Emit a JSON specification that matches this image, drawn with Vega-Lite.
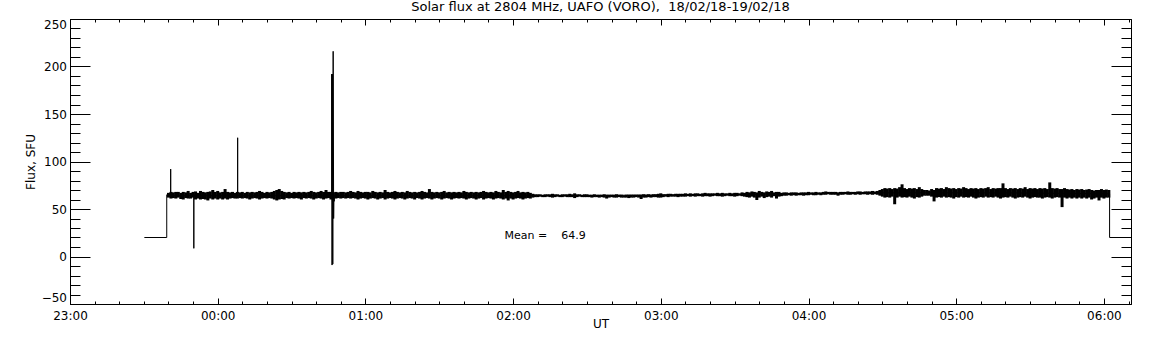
{
  "$schema": "https://vega.github.io/schema/vega-lite/v6.json",
  "width": 1061,
  "height": 285,
  "autosize": "none",
  "padding": {"left": 70, "top": 19, "right": 21, "bottom": 41},
  "background": "white",
  "title": {"text": "Solar flux at 2804 MHz, UAFO (VORO),\u00a0\u00a018/02/18-19/02/18", "font": "DejaVu Sans", "fontSize": 13, "fontWeight": "normal", "color": "black", "anchor": "middle", "offset": 4},
  "config": {
    "view": {"stroke": null},
    "axis": {"grid": false, "domainColor": "black", "domainWidth": 1, "tickColor": "black", "tickWidth": 1, "labelColor": "black", "titleColor": "black", "labelFont": "DejaVu Sans", "titleFont": "DejaVu Sans", "labelFontSize": 12, "titleFontSize": 12, "titleFontWeight": "normal"}
  },
  "datasets": {
    "trace": [
      {"m": 30.2, "f": 20}, {"m": 39.3, "f": 20}, {"m": 39.3, "f": 65}, {"m": 40.9, "f": 65}, {"m": 40.9, "f": 92}, {"m": 40.9, "f": 64},
      {"m": 50.3, "f": 64}, {"m": 50.3, "f": 8.6}, {"m": 50.3, "f": 64}, {"m": 68.1, "f": 64}, {"m": 68.1, "f": 125}, {"m": 68.1, "f": 64},
      {"m": 106.3, "f": 64}, {"m": 106.3, "f": 192}, {"m": 106.45, "f": -9}, {"m": 106.6, "f": 192}, {"m": 106.75, "f": -8}, {"m": 106.9, "f": 216},
      {"m": 107.1, "f": 40}, {"m": 107.2, "f": 64}, {"m": 190, "f": 64}, {"m": 260, "f": 65}, {"m": 328, "f": 67}, {"m": 380, "f": 67},
      {"m": 422.3, "f": 66}, {"m": 422.3, "f": 20}, {"m": 431, "f": 20}
    ],
    "band": [
      {"m":40,"lo":62,"hi":67},{"m":41,"lo":61,"hi":68},{"m":42,"lo":61.5,"hi":67.5},{"m":43,"lo":61,"hi":68},{"m":44,"lo":62,"hi":68},{"m":45,"lo":60.5,"hi":67},{"m":46,"lo":60,"hi":68},{"m":47,"lo":61.5,"hi":67.5},{"m":48,"lo":61,"hi":69},{"m":49,"lo":61,"hi":67},
      {"m":50,"lo":62,"hi":68},{"m":51,"lo":60,"hi":68.5},{"m":52,"lo":61,"hi":67},{"m":53,"lo":60,"hi":69},{"m":54,"lo":60.5,"hi":68},{"m":55,"lo":60,"hi":67.5},{"m":56,"lo":59,"hi":68},{"m":57,"lo":61,"hi":68.5},{"m":58,"lo":60,"hi":70},{"m":59,"lo":61,"hi":68},
      {"m":60,"lo":60,"hi":69},{"m":61,"lo":61,"hi":67.5},{"m":62,"lo":60,"hi":68},{"m":63,"lo":61,"hi":71},{"m":64,"lo":60,"hi":68},{"m":65,"lo":61,"hi":67.5},{"m":66,"lo":61.5,"hi":68},{"m":67,"lo":61,"hi":67},{"m":68,"lo":61,"hi":68},{"m":69,"lo":61.5,"hi":67.5},
      {"m":70,"lo":61,"hi":68},{"m":71,"lo":61.5,"hi":67},{"m":72,"lo":61,"hi":68},{"m":73,"lo":60,"hi":67.5},{"m":74,"lo":61,"hi":68},{"m":75,"lo":61.5,"hi":67.5},{"m":76,"lo":61,"hi":68},{"m":77,"lo":60,"hi":69},{"m":78,"lo":61,"hi":68},{"m":79,"lo":61.5,"hi":67},
      {"m":80,"lo":61,"hi":68},{"m":81,"lo":61.5,"hi":67.5},{"m":82,"lo":61,"hi":68},{"m":83,"lo":60,"hi":69},{"m":84,"lo":59,"hi":70},{"m":85,"lo":60,"hi":71},{"m":86,"lo":60.5,"hi":69},{"m":87,"lo":60,"hi":68},{"m":88,"lo":61.5,"hi":67.5},{"m":89,"lo":61,"hi":68},
      {"m":90,"lo":61.5,"hi":67},{"m":91,"lo":61,"hi":68},{"m":92,"lo":61.5,"hi":67.5},{"m":93,"lo":61,"hi":68},{"m":94,"lo":60,"hi":67.5},{"m":95,"lo":61.5,"hi":68},{"m":96,"lo":61,"hi":67.5},{"m":97,"lo":61.5,"hi":68},{"m":98,"lo":61,"hi":69},{"m":99,"lo":60,"hi":68},
      {"m":100,"lo":61,"hi":67.5},{"m":101,"lo":61.5,"hi":68},{"m":102,"lo":61,"hi":69},{"m":103,"lo":60,"hi":68},{"m":104,"lo":61,"hi":70},{"m":105,"lo":61.5,"hi":68},{"m":106,"lo":60,"hi":68},{"m":107,"lo":58,"hi":67.5},{"m":108,"lo":61,"hi":68},{"m":109,"lo":61.5,"hi":67.5},
      {"m":110,"lo":61,"hi":68},{"m":111,"lo":61.5,"hi":68},{"m":112,"lo":61,"hi":67.5},{"m":113,"lo":61.5,"hi":68},{"m":114,"lo":61,"hi":69},{"m":115,"lo":61.5,"hi":68},{"m":116,"lo":61,"hi":67.5},{"m":117,"lo":60,"hi":69},{"m":118,"lo":61,"hi":68},{"m":119,"lo":61.5,"hi":67.5},
      {"m":120,"lo":61,"hi":68},{"m":121,"lo":60,"hi":68},{"m":122,"lo":61,"hi":67.5},{"m":123,"lo":61.5,"hi":69},{"m":124,"lo":61,"hi":68},{"m":125,"lo":60,"hi":67.5},{"m":126,"lo":61,"hi":68},{"m":127,"lo":61.5,"hi":67.5},{"m":128,"lo":60,"hi":70},{"m":129,"lo":61,"hi":68},
      {"m":130,"lo":61.5,"hi":67.5},{"m":131,"lo":61,"hi":68},{"m":132,"lo":60,"hi":69},{"m":133,"lo":61,"hi":68},{"m":134,"lo":61.5,"hi":67.5},{"m":135,"lo":61,"hi":68},{"m":136,"lo":60,"hi":67.5},{"m":137,"lo":61,"hi":69},{"m":138,"lo":61.5,"hi":68},{"m":139,"lo":61,"hi":67.5},
      {"m":140,"lo":60,"hi":68},{"m":141,"lo":61.5,"hi":67.5},{"m":142,"lo":61,"hi":68},{"m":143,"lo":60,"hi":69},{"m":144,"lo":61,"hi":68},{"m":145,"lo":61.5,"hi":67.5},{"m":146,"lo":61,"hi":71},{"m":147,"lo":60,"hi":68},{"m":148,"lo":61,"hi":67.5},{"m":149,"lo":61.5,"hi":68},
      {"m":150,"lo":61,"hi":67.5},{"m":151,"lo":60,"hi":68},{"m":152,"lo":61,"hi":69},{"m":153,"lo":61.5,"hi":67.5},{"m":154,"lo":61,"hi":68},{"m":155,"lo":60,"hi":67.5},{"m":156,"lo":61,"hi":68},{"m":157,"lo":61.5,"hi":67.5},{"m":158,"lo":61,"hi":68},{"m":159,"lo":61.5,"hi":67.5},
      {"m":160,"lo":61,"hi":69},{"m":161,"lo":60,"hi":68},{"m":162,"lo":61,"hi":67.5},{"m":163,"lo":61.5,"hi":68},{"m":164,"lo":61,"hi":67.5},{"m":165,"lo":60,"hi":68},{"m":166,"lo":61,"hi":67.5},{"m":167,"lo":61.5,"hi":68},{"m":168,"lo":60,"hi":69},{"m":169,"lo":61,"hi":68},
      {"m":170,"lo":61.5,"hi":67.5},{"m":171,"lo":61,"hi":68},{"m":172,"lo":60,"hi":67.5},{"m":173,"lo":61,"hi":69},{"m":174,"lo":61.5,"hi":68},{"m":175,"lo":61,"hi":67.5},{"m":176,"lo":60,"hi":70},{"m":177,"lo":61,"hi":68},{"m":178,"lo":59,"hi":69},{"m":179,"lo":61,"hi":68},
      {"m":180,"lo":60,"hi":67.5},{"m":181,"lo":61,"hi":68},{"m":182,"lo":61.5,"hi":69},{"m":183,"lo":61,"hi":67.5},{"m":184,"lo":60,"hi":68},{"m":185,"lo":61,"hi":67.5},{"m":186,"lo":61.5,"hi":68},{"m":187,"lo":61,"hi":67},{"m":188,"lo":62,"hi":66},
      {"m":189,"lo":62.5,"hi":65.5},{"m":190,"lo":62.5,"hi":65.5},{"m":191,"lo":63,"hi":65.5},{"m":192,"lo":62.5,"hi":65},{"m":193,"lo":62.5,"hi":65.5},{"m":194,"lo":63,"hi":65.5},{"m":195,"lo":62.5,"hi":65.5},{"m":196,"lo":62,"hi":66},{"m":197,"lo":62.5,"hi":65.5},{"m":198,"lo":63,"hi":65.5},
      {"m":199,"lo":62.5,"hi":65},{"m":200,"lo":62.5,"hi":65.5},{"m":201,"lo":63,"hi":65.5},{"m":202,"lo":62.5,"hi":65.5},{"m":203,"lo":62.5,"hi":66},{"m":204,"lo":62.5,"hi":65.5},{"m":205,"lo":61.5,"hi":66.5},{"m":206,"lo":62.5,"hi":65.5},{"m":207,"lo":63,"hi":65.5},{"m":208,"lo":62.5,"hi":65},
      {"m":209,"lo":62.5,"hi":65.5},{"m":210,"lo":62.5,"hi":65.5},{"m":211,"lo":62.5,"hi":65},{"m":212,"lo":62,"hi":65},{"m":213,"lo":62.5,"hi":65.5},{"m":214,"lo":62.5,"hi":65},{"m":215,"lo":62,"hi":65},{"m":216,"lo":62.5,"hi":65},{"m":217,"lo":62,"hi":65.5},{"m":218,"lo":61,"hi":65},
      {"m":219,"lo":62,"hi":65},{"m":220,"lo":62.5,"hi":65},{"m":221,"lo":62,"hi":65},{"m":222,"lo":62,"hi":65.5},{"m":223,"lo":62.5,"hi":65},{"m":224,"lo":62,"hi":65},{"m":225,"lo":62,"hi":64.5},{"m":226,"lo":62,"hi":65},{"m":227,"lo":61.5,"hi":65},{"m":228,"lo":62,"hi":65},
      {"m":229,"lo":62,"hi":65},{"m":230,"lo":62.5,"hi":65},{"m":231,"lo":62,"hi":65},{"m":232,"lo":60.5,"hi":65},{"m":233,"lo":62,"hi":65.5},{"m":234,"lo":62,"hi":65},{"m":235,"lo":62.5,"hi":65.5},{"m":236,"lo":62,"hi":65},{"m":237,"lo":62.5,"hi":65.5},{"m":238,"lo":62.5,"hi":65.5},
      {"m":239,"lo":62,"hi":66},{"m":240,"lo":62,"hi":66.5},{"m":241,"lo":62.5,"hi":65.5},{"m":242,"lo":63,"hi":65.5},{"m":243,"lo":62.5,"hi":66},{"m":244,"lo":63,"hi":66},{"m":245,"lo":63,"hi":65.5},{"m":246,"lo":63,"hi":66},{"m":247,"lo":62.5,"hi":66},{"m":248,"lo":63,"hi":66},
      {"m":249,"lo":63,"hi":66},{"m":250,"lo":63,"hi":66.5},{"m":251,"lo":63.5,"hi":66},{"m":252,"lo":63,"hi":66.5},{"m":253,"lo":63.5,"hi":66},{"m":254,"lo":63,"hi":66.5},{"m":255,"lo":63.5,"hi":66.5},{"m":256,"lo":63.5,"hi":66},{"m":257,"lo":63,"hi":66.5},{"m":258,"lo":63.5,"hi":67},
      {"m":259,"lo":63.5,"hi":66.5},{"m":260,"lo":63,"hi":66.5},{"m":261,"lo":63.5,"hi":66.5},{"m":262,"lo":64,"hi":66.5},{"m":263,"lo":63.5,"hi":67},{"m":264,"lo":63.5,"hi":66.5},{"m":265,"lo":63,"hi":67},{"m":266,"lo":63.5,"hi":66.5},{"m":267,"lo":64,"hi":66.5},{"m":268,"lo":63.5,"hi":67},
      {"m":269,"lo":63.5,"hi":66.5},{"m":270,"lo":63,"hi":67},{"m":271,"lo":63.5,"hi":67},{"m":272,"lo":64,"hi":66.5},{"m":273,"lo":63.5,"hi":67.5},{"m":274,"lo":63,"hi":67},{"m":275,"lo":62.5,"hi":68},{"m":276,"lo":62,"hi":67.5},{"m":277,"lo":63,"hi":68.5},{"m":278,"lo":62,"hi":68},
      {"m":279,"lo":59.5,"hi":67.5},{"m":280,"lo":62,"hi":69},{"m":281,"lo":63,"hi":68},{"m":282,"lo":61.5,"hi":67.5},{"m":283,"lo":62.5,"hi":68.5},{"m":284,"lo":63,"hi":68},{"m":285,"lo":62,"hi":69},{"m":286,"lo":63.5,"hi":67.5},{"m":287,"lo":61,"hi":68},{"m":288,"lo":63,"hi":68},
      {"m":289,"lo":63.5,"hi":67},{"m":290,"lo":64,"hi":67.5},{"m":291,"lo":64,"hi":67.5},{"m":292,"lo":64.5,"hi":67},{"m":293,"lo":64,"hi":67.5},{"m":294,"lo":64.5,"hi":67.5},{"m":295,"lo":64,"hi":67.5},{"m":296,"lo":64.5,"hi":67},{"m":297,"lo":64.5,"hi":67.5},{"m":298,"lo":64,"hi":67.5},
      {"m":299,"lo":64.5,"hi":67.5},{"m":300,"lo":64.5,"hi":68},{"m":301,"lo":65,"hi":67.5},{"m":302,"lo":64.5,"hi":67.5},{"m":303,"lo":64.5,"hi":68},{"m":304,"lo":65,"hi":67.5},{"m":305,"lo":64.5,"hi":67.5},{"m":306,"lo":65,"hi":68},{"m":307,"lo":65,"hi":68.5},{"m":308,"lo":65.5,"hi":68},
      {"m":309,"lo":65,"hi":68},{"m":310,"lo":65,"hi":68},{"m":311,"lo":65,"hi":68},{"m":312,"lo":64,"hi":67.5},{"m":313,"lo":65,"hi":68},{"m":314,"lo":65,"hi":68},{"m":315,"lo":65.5,"hi":68},{"m":316,"lo":65,"hi":68.5},{"m":317,"lo":65,"hi":68},{"m":318,"lo":65.5,"hi":68},
      {"m":319,"lo":65,"hi":68},{"m":320,"lo":65.5,"hi":68.5},{"m":321,"lo":65,"hi":68.5},{"m":322,"lo":65.5,"hi":68},{"m":323,"lo":65.5,"hi":68.5},{"m":324,"lo":65,"hi":68.5},{"m":325,"lo":65.5,"hi":68.5},{"m":326,"lo":65,"hi":69},{"m":327,"lo":65.5,"hi":68.5},{"m":328,"lo":65,"hi":69},
      {"m":329,"lo":64,"hi":70},{"m":330,"lo":63,"hi":71},{"m":331,"lo":62,"hi":72},{"m":332,"lo":62.5,"hi":71.5},{"m":333,"lo":62,"hi":72},{"m":334,"lo":63,"hi":71},{"m":335,"lo":55,"hi":72},{"m":336,"lo":62,"hi":71.5},{"m":337,"lo":63,"hi":73},{"m":338,"lo":62,"hi":76},
      {"m":339,"lo":62.5,"hi":72},{"m":340,"lo":62,"hi":71},{"m":341,"lo":63,"hi":72},{"m":342,"lo":62,"hi":71.5},{"m":343,"lo":61,"hi":72},{"m":344,"lo":62.5,"hi":71},{"m":345,"lo":62,"hi":73},{"m":346,"lo":63,"hi":71},{"m":347,"lo":64,"hi":70},{"m":348,"lo":64,"hi":70},
      {"m":349,"lo":64,"hi":69.5},{"m":350,"lo":63,"hi":71},{"m":351,"lo":58,"hi":70},{"m":352,"lo":62,"hi":72},{"m":353,"lo":62.5,"hi":71.5},{"m":354,"lo":62,"hi":72},{"m":355,"lo":63,"hi":71},{"m":356,"lo":62,"hi":73},{"m":357,"lo":62.5,"hi":72},{"m":358,"lo":62,"hi":71.5},
      {"m":359,"lo":61,"hi":72},{"m":360,"lo":62.5,"hi":71},{"m":361,"lo":62,"hi":72},{"m":362,"lo":63,"hi":71.5},{"m":363,"lo":62,"hi":73},{"m":364,"lo":62.5,"hi":72},{"m":365,"lo":62,"hi":71},{"m":366,"lo":63,"hi":72},{"m":367,"lo":62,"hi":71.5},{"m":368,"lo":61,"hi":72},
      {"m":369,"lo":62,"hi":71},{"m":370,"lo":62.5,"hi":72},{"m":371,"lo":62,"hi":71.5},{"m":372,"lo":63,"hi":72},{"m":373,"lo":62,"hi":73},{"m":374,"lo":62.5,"hi":71},{"m":375,"lo":62,"hi":72},{"m":376,"lo":63,"hi":71.5},{"m":377,"lo":62,"hi":72},{"m":378,"lo":61,"hi":72},
      {"m":379,"lo":62,"hi":77},{"m":380,"lo":62.5,"hi":72},{"m":381,"lo":62,"hi":71},{"m":382,"lo":63,"hi":72},{"m":383,"lo":62,"hi":71.5},{"m":384,"lo":61,"hi":72},{"m":385,"lo":62,"hi":71},{"m":386,"lo":62.5,"hi":72},{"m":387,"lo":62,"hi":71.5},{"m":388,"lo":63,"hi":73},
      {"m":389,"lo":62,"hi":71},{"m":390,"lo":61,"hi":72},{"m":391,"lo":62,"hi":71.5},{"m":392,"lo":62.5,"hi":72},{"m":393,"lo":62,"hi":71},{"m":394,"lo":62,"hi":72},{"m":395,"lo":61,"hi":71.5},{"m":396,"lo":62,"hi":72},{"m":397,"lo":62.5,"hi":71},{"m":398,"lo":62,"hi":78},
      {"m":399,"lo":61,"hi":72},{"m":400,"lo":62,"hi":71.5},{"m":401,"lo":62.5,"hi":72},{"m":402,"lo":62,"hi":71},{"m":403,"lo":52,"hi":71},{"m":404,"lo":62,"hi":72},{"m":405,"lo":61,"hi":71},{"m":406,"lo":62,"hi":70.5},{"m":407,"lo":61,"hi":71},{"m":408,"lo":62,"hi":70},
      {"m":409,"lo":61,"hi":71},{"m":410,"lo":62,"hi":70.5},{"m":411,"lo":61,"hi":71},{"m":412,"lo":62,"hi":70},{"m":413,"lo":61,"hi":70.5},{"m":414,"lo":62,"hi":71},{"m":415,"lo":60,"hi":70},{"m":416,"lo":61,"hi":69.5},{"m":417,"lo":62,"hi":70},{"m":418,"lo":59,"hi":70},
      {"m":419,"lo":62,"hi":71},{"m":420,"lo":61,"hi":70},{"m":421,"lo":62,"hi":70.5},{"m":422,"lo":62,"hi":70}
    ],
    "note": [{"m": 176.5, "f": 22, "label": "Mean =\u00a0\u00a0\u00a0 64.9"}]
  },
  "layer": [
    {
      "data": {"name": "band"},
      "mark": {"type": "rule", "color": "black", "strokeWidth": 3, "clip": true},
      "encoding": {
        "x": {"field": "m", "type": "quantitative", "scale": {"domain": [0, 431], "nice": false, "zero": false},
          "axis": {"orient": "bottom", "values": [0, 60, 120, 180, 240, 300, 360, 420], "labelExpr": "['23:00','00:00','01:00','02:00','03:00','04:00','05:00','06:00'][datum.value/60]", "tickSize": -6, "labelPadding": 12.5, "labelFlush": false, "labelOverlap": false, "title": "UT", "titlePadding": -3}},
        "y": {"field": "lo", "type": "quantitative", "scale": {"domain": [-50, 250], "nice": false, "zero": false},
          "axis": {"orient": "left", "values": [-50, 0, 50, 100, 150, 200, 250], "tickSize": -20, "labelPadding": 23.5, "labelFlush": true, "labelOverlap": false, "title": "Flux, SFU", "titlePadding": 4}},
        "y2": {"field": "hi"}
      }
    },
    {
      "data": {"name": "trace"},
      "mark": {"type": "line", "color": "black", "strokeWidth": 1, "clip": true},
      "encoding": {
        "x": {"field": "m", "type": "quantitative", "axis": {"orient": "top", "values": [0, 60, 120, 180, 240, 300, 360, 420], "tickSize": -6, "labels": false, "title": null}},
        "y": {"field": "f", "type": "quantitative", "axis": {"orient": "right", "values": [-50, 0, 50, 100, 150, 200, 250], "tickSize": -20, "labels": false, "title": null}},
        "order": {"value": null}
      }
    },
    {
      "data": {"name": "trace"},
      "mark": {"type": "line", "strokeOpacity": 0},
      "encoding": {
        "x": {"field": "m", "type": "quantitative", "axis": {"orient": "bottom", "values": [0,10,20,30,40,50,60,70,80,90,100,110,120,130,140,150,160,170,180,190,200,210,220,230,240,250,260,270,280,290,300,310,320,330,340,350,360,370,380,390,400,410,420,430], "tickSize": -3, "labels": false, "domain": false, "title": null}},
        "y": {"field": "f", "type": "quantitative", "axis": {"orient": "left", "values": [-50,-40,-30,-20,-10,0,10,20,30,40,50,60,70,80,90,100,110,120,130,140,150,160,170,180,190,200,210,220,230,240,250], "tickSize": -10, "labels": false, "domain": false, "title": null}},
        "order": {"value": null}
      }
    },
    {
      "data": {"name": "trace"},
      "mark": {"type": "line", "strokeOpacity": 0},
      "encoding": {
        "x": {"field": "m", "type": "quantitative", "axis": {"orient": "top", "values": [0,10,20,30,40,50,60,70,80,90,100,110,120,130,140,150,160,170,180,190,200,210,220,230,240,250,260,270,280,290,300,310,320,330,340,350,360,370,380,390,400,410,420,430], "tickSize": -3, "labels": false, "domain": false, "title": null}},
        "y": {"field": "f", "type": "quantitative", "axis": {"orient": "right", "values": [-50,-40,-30,-20,-10,0,10,20,30,40,50,60,70,80,90,100,110,120,130,140,150,160,170,180,190,200,210,220,230,240,250], "tickSize": -10, "labels": false, "domain": false, "title": null}},
        "order": {"value": null}
      }
    },
    {
      "data": {"name": "note"},
      "mark": {"type": "text", "align": "left", "baseline": "middle", "font": "DejaVu Sans", "fontSize": 11, "color": "black"},
      "encoding": {
        "x": {"field": "m", "type": "quantitative", "axis": null},
        "y": {"field": "f", "type": "quantitative", "axis": null},
        "text": {"field": "label"}
      }
    }
  ],
  "resolve": {"axis": {"x": "independent", "y": "independent"}}
}
